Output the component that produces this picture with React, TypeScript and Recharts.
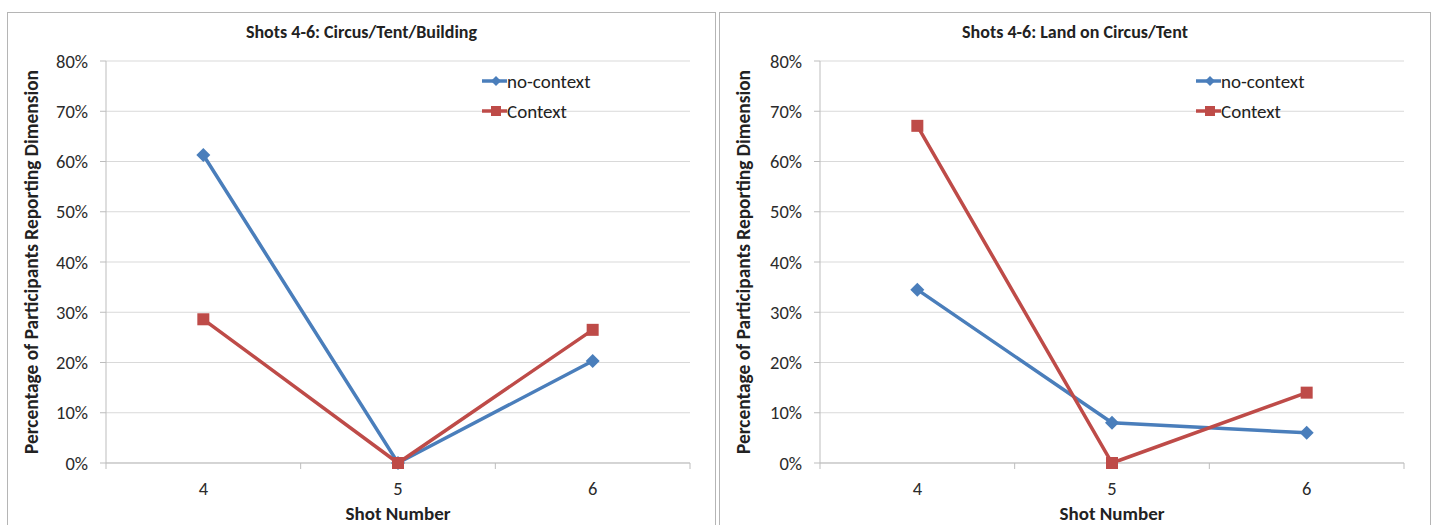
import React from 'react';
import { LineChart, Line, XAxis, YAxis, CartesianGrid, Legend, Label } from 'recharts';

const shots = [4, 5, 6];
const circusNoContext = [61.3, 0, 20.3];
const circusContext = [28.6, 0, 26.5];
const landNoContext = [34.5, 8.0, 6.0];
const landContext = [67.1, 0, 14.0];
const yTicks = [0, 10, 20, 30, 40, 50, 60, 70, 80];
// half steps mark the category borders, whole steps carry the labels
const xTicks = [3.5, 4, 4.5, 5, 5.5, 6, 6.5];

const BLUE = '#4a7ebb';
const RED = '#be4b48';
const FONT = 'Carlito, Lato, "Open Sans", sans-serif';
const AXIS = '#bdbdbd';

const buildRows = (noContext: number[], context: number[]) =>
  shots.map((shot, i) => ({ shot, noContext: noContext[i], context: context[i] }));

const Diamond = ({ cx, cy, size = 7 }: any) => {
  if (cx == null || cy == null) return null;
  return <path d={`M${cx} ${cy - size} L${cx + size} ${cy} L${cx} ${cy + size} L${cx - size} ${cy} Z`} fill={BLUE} />;
};

const Square = ({ cx, cy, size = 6 }: any) => {
  if (cx == null || cy == null) return null;
  return <rect x={cx - size} y={cy - size} width={size * 2} height={size * 2} fill={RED} />;
};

const XTick = ({ x, y, payload }: any) => {
  const v = payload.value;
  if (Number.isInteger(v)) {
    return (
      <text x={x} y={y + 25} textAnchor="middle" dominantBaseline="central" fontSize={18.5} fill="#2b2b2b" fontFamily={FONT}>
        {v}
      </text>
    );
  }
  return <line x1={x} y1={y} x2={x} y2={y + 6} stroke={AXIS} />;
};

const LegendBox = () => (
  <div style={{ fontFamily: FONT, fontSize: 19, color: '#222' }}>
    {[
      { name: 'no-context', color: BLUE, shape: 'diamond' },
      { name: 'Context', color: RED, shape: 'square' },
    ].map((item) => (
      <div key={item.name} style={{ display: 'flex', alignItems: 'center', height: 30 }}>
        <svg width={25} height={14}>
          <line x1={0} y1={7} x2={25} y2={7} stroke={item.color} strokeWidth={3.5} />
          {item.shape === 'diamond' ? <Diamond cx={14} cy={7} size={5} /> : <Square cx={14} cy={7} size={5} />}
        </svg>
        <span>{item.name}</span>
      </div>
    ))}
  </div>
);

interface PanelProps {
  left: number;
  width: number;
  title: string;
  noContext: number[];
  context: number[];
  axisWidth: number;
}

const Panel: React.FC<PanelProps> = ({ left, width, title, noContext, context, axisWidth }) => {
  const chartWidth = width - 2;
  const plotWidth = 584;
  return (
    <div
      style={{
        position: 'absolute',
        left,
        top: 12,
        width,
        height: 525,
        border: '1px solid #b5b5b5',
        boxSizing: 'border-box',
        background: '#fff',
      }}
    >
      <div
        style={{
          position: 'absolute',
          top: 9,
          left: 0,
          width: '100%',
          textAlign: 'center',
          fontFamily: FONT,
          fontWeight: 700,
          fontSize: 18,
          lineHeight: '20px',
          color: '#222',
        }}
      >
        {title}
      </div>
      <LineChart
        width={chartWidth}
        height={511}
        data={buildRows(noContext, context)}
        margin={{ top: 48, right: chartWidth - axisWidth - plotWidth, bottom: 0, left: 0 }}
      >
        <CartesianGrid vertical={false} stroke="#d9d9d9" />
        <XAxis
          dataKey="shot"
          type="number"
          domain={[3.5, 6.5]}
          ticks={xTicks}
          interval={0}
          height={61}
          stroke={AXIS}
          tickLine={false}
          tickSize={0}
          tickMargin={0}
          tick={<XTick />}
        >
          <Label
            content={({ viewBox }: any) => (
              <text
                x={viewBox.x + viewBox.width / 2}
                y={viewBox.y + 50}
                textAnchor="middle"
                dominantBaseline="central"
                fontFamily={FONT}
                fontWeight={700}
                fontSize={19}
                fill="#222"
              >
                Shot Number
              </text>
            )}
          />
        </XAxis>
        <YAxis
          domain={[0, 80]}
          ticks={yTicks}
          interval={0}
          width={axisWidth}
          stroke={AXIS}
          tickSize={6}
          tickMargin={12}
          tickFormatter={(v: number) => `${v}%`}
          tick={{ fontSize: 18.5, fill: '#2b2b2b', fontFamily: FONT }}
        >
          <Label
            content={({ viewBox }: any) => {
              const x = viewBox.x + 23;
              const y = viewBox.y + viewBox.height / 2;
              return (
                <text
                  x={x}
                  y={y}
                  transform={`rotate(-90, ${x}, ${y})`}
                  textAnchor="middle"
                  dominantBaseline="central"
                  fontFamily={FONT}
                  fontWeight={700}
                  fontSize={19.4}
                  fill="#222"
                >
                  Percentage of Participants Reporting Dimension
                </text>
              );
            }}
          />
        </YAxis>
        <Legend
          layout="vertical"
          align="center"
          verticalAlign="middle"
          wrapperStyle={{ left: axisWidth + 376, top: 53 }}
          content={() => <LegendBox />}
        />
        <Line
          dataKey="noContext"
          name="no-context"
          stroke={BLUE}
          strokeWidth={3.5}
          dot={(p: any) => <Diamond key={`d-${p.index}`} cx={p.cx} cy={p.cy} />}
          isAnimationActive={false}
        />
        <Line
          dataKey="context"
          name="Context"
          stroke={RED}
          strokeWidth={3.5}
          dot={(p: any) => <Square key={`s-${p.index}`} cx={p.cx} cy={p.cy} />}
          isAnimationActive={false}
        />
      </LineChart>
    </div>
  );
};

export default function App() {
  return (
    <div style={{ position: 'absolute', left: 0, top: 0, width: 1435, height: 525, overflow: 'hidden', background: '#fff' }}>
      <Panel
        left={7}
        width={709}
        title="Shots 4-6: Circus/Tent/Building"
        noContext={circusNoContext}
        context={circusContext}
        axisWidth={98}
      />
      <Panel
        left={719}
        width={712}
        title="Shots 4-6: Land on Circus/Tent"
        noContext={landNoContext}
        context={landContext}
        axisWidth={100}
      />
    </div>
  );
}
